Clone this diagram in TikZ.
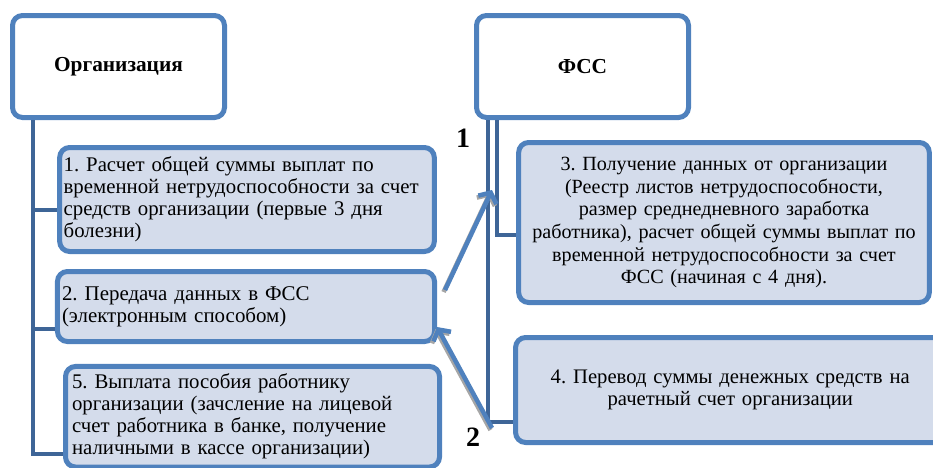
\documentclass[tikz,border=0pt]{standalone}
\usepackage{fontspec}
\setmainfont{Liberation Serif}
\usepackage{tikz}
\usetikzlibrary{positioning,arrows.meta,calc}
\definecolor{colframe}{RGB}{79,129,189}
\definecolor{coltrunk}{RGB}{62,101,151}
\definecolor{colfill}{RGB}{212,220,235}
\frenchspacing

\begin{document}
\begin{tikzpicture}[x=0.75pt,y=-0.75pt,
    topbox/.style={draw=colframe,line width=3.75pt,rounded corners=7.5pt,fill=white,
      minimum width=159pt,minimum height=76.5pt,font=\fontsize{16}{16.5}\selectfont\bfseries},
    stepbox/.style={draw=colframe,line width=3.75pt,rounded corners=7.5pt,fill=colfill,
      inner ysep=2pt},
    trunk/.style={draw=coltrunk,line width=3.2pt},
    flowarrow/.style={draw=colframe,line width=3.4pt,-{Straight Barb[length=6pt,width=15pt]}},
    flowshadow/.style={draw=black!35,line width=3.4pt,-{Straight Barb[length=6pt,width=15pt]}},
    numlabel/.style={font=\fontsize{21}{21}\selectfont\bfseries,inner sep=0pt}]
    \clip (0,0) rectangle (933,468);

    % header boxes
    \node[topbox] (org) at (118.5,66.5) {Организация};
    \node[topbox] (fss) at (582.5,66.5) {ФСС};

    % steps of the organisation
    \node[stepbox,font=\fontsize{15.6}{16.5}\selectfont,inner xsep=3pt,text width=275pt,minimum height=78pt,align=left] (s1) at (247,199.5)
      {1. Расчет общей суммы выплат по\\временной нетрудоспособности за счет\\средств организации (первые 3 дня\\болезни)};
    \node[stepbox,font=\fontsize{15.7}{16.5}\selectfont,inner xsep=3.4pt,text width=276pt,minimum height=52.5pt,align=left] (s2) at (246,306.5)
      {2. Передача данных в ФСС\\(электронным способом)};
    \node[stepbox,font=\fontsize{15.6}{16.5}\selectfont,inner xsep=4.9pt,text width=270.7pt,minimum height=75.4pt,align=left] (s5) at (252.5,416.75)
      {5. Выплата пособия работнику\\организации (зачсление на лицевой\\счет работника в банке, получение\\наличными в кассе организации)};

    % steps of the fund
    \node[stepbox,font=\fontsize{15.1}{17}\selectfont,inner xsep=1pt,text width=306pt,minimum height=120pt,align=center] (s3) at (724,222.5)
      {3. Получение данных от организации\\(Реестр листов нетрудоспособности,\\размер среднедневного заработка\\работника), расчет общей суммы выплат по\\временной нетрудоспособности за счет\\ФСС (начиная с 4 дня).};
    \node[stepbox,font=\fontsize{15.5}{16.5}\selectfont,inner xsep=4pt,text width=314pt,minimum height=78.75pt,align=center] (s4) at (730.25,390)
      {4. Перевод суммы денежных средств на\\рачетный счет организации};

    % trunks
    \draw[trunk] ([xshift=17.25pt]org.south west) |- ([yshift=-7.9pt]s1.west)
                 ([xshift=17.25pt]org.south west) |- ([yshift=-16.9pt]s2.west)
                 ([xshift=17.25pt]org.south west) |- ([yshift=-28pt]s5.west);
    \draw[trunk] ([xshift=10.5pt]fss.south west) |- ([yshift=-24pt]s4.west);
    \draw[trunk] ([xshift=17.25pt]fss.south west) |- ([yshift=-9.4pt]s3.west);

    % exchange arrows
    \coordinate (tip1) at (492,190);
    \coordinate (tail2) at (492,428);
    \draw[flowshadow] ([shift={(6.5,23)}]s2.north east) -- ([shift={(-1.5,2)}]tip1);
    \draw[flowarrow] ([shift={(8,21)}]s2.north east) -- (tip1);
    \draw[flowshadow] ([shift={(-1.5,2)}]tail2) -- ([shift={(-1.5,22.5)}]s2.east);
    \draw[flowarrow] (tail2) -- ([shift={(0,20.5)}]s2.east);

    \node[numlabel] (n1) at (463,138) {1};
    \node[numlabel] (n2) at (473,437) {2};
  \end{tikzpicture}
\end{document}
